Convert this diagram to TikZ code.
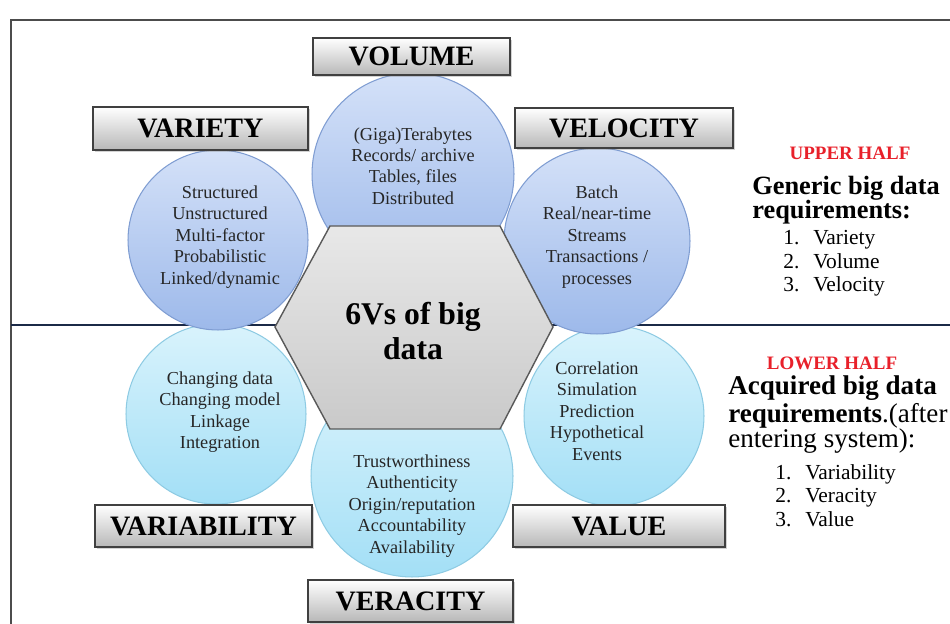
\documentclass[tikz,border=0pt]{standalone}
\usepackage{fontspec}
\setmainfont{Liberation Serif}
\usetikzlibrary{shadows}

\definecolor{upbluetop}{HTML}{D4E1F8}
\definecolor{upbluebot}{HTML}{9DB9EA}
\definecolor{upblueline}{HTML}{7F9DD2}
\definecolor{lowcyantop}{HTML}{D9F3FC}
\definecolor{lowcyanbot}{HTML}{A3DFF6}
\definecolor{lowcyanline}{HTML}{8ECBE3}
\definecolor{divline}{HTML}{1B2A47}
\definecolor{halfred}{HTML}{E8202A}

\tikzset{
	upcirc/.style={circle, draw=upblueline, line width=0.6pt, top color=upbluetop, bottom color=upbluebot, inner sep=0pt},
	lowcirc/.style={circle, draw=lowcyanline, line width=0.6pt, top color=lowcyantop, bottom color=lowcyanbot, inner sep=0pt},
	circtxt/.style={align=center, text=black!85, font=\fontsize{10.4}{12.2}\selectfont},
	vbox/.style={draw=black!75, line width=0.9pt, top color=white, bottom color=black!28, inner sep=0pt,
		drop shadow={opacity=0.35, shadow xshift=1.2pt, shadow yshift=-1.2pt},
		font=\fontsize{16}{16}\selectfont\bfseries},
	hexcore/.style={draw=black!65, line width=0.8pt, top color=black!9, bottom color=black!21},
	halftitle/.style={anchor=base, text=halfred, font=\fontsize{10.8}{12}\selectfont\bfseries},
	reqline/.style={anchor=base west, inner sep=0pt},
	listline/.style={anchor=base west, inner sep=0pt, font=\fontsize{12.2}{13}\selectfont}
}

\begin{document}
\begin{tikzpicture}[x=0.02cm, y=-0.02cm]
			%%%%% START %%%%%
			\useasboundingbox (0, 0) rectangle (950, 624);
			\clip (0, 0) rectangle (950, 624);
			
			\draw[line width=0.9pt, color=black!70] (11, 20) rectangle (1000, 700);
			\draw[line width=1.6pt, color=divline] (11, 325) -- (950, 325);
			
			% lower half
			\node[lowcirc, minimum size=3.6cm] (variabilitycirc) at (216, 414) {};
			\node[lowcirc, minimum size=3.6cm] (valuecirc) at (614, 416) {};
			\node[lowcirc, minimum size=4.04cm] (veracitycirc) at (412, 476) {};
			
			% upper half
			\node[upcirc, minimum size=3.6cm] (varietycirc) at (218, 240) {};
			\node[upcirc, minimum size=4.04cm] (volumecirc) at (413, 174) {};
			\node[upcirc, minimum size=3.72cm] (velocitycirc) at (597, 241) {};
			
			\draw[hexcore] (330, 226) -- (500, 226) -- (553, 327) -- (500, 429) -- (330, 429) -- (275, 327) -- cycle;
			\node[align=center, font=\fontsize{18}{19.5}\selectfont\bfseries] (core) at (413, 331) {6Vs of big\\data};
			
			\node[circtxt] (volumetxt) at (413, 166) {(Giga)Terabytes\\Records/ archive\\Tables, files\\Distributed};
			\node[circtxt] (varietytxt) at (220, 237) {Structured\\Unstructured\\Multi-factor\\Probabilistic\\Linked/dynamic};
			\node[circtxt] (velocitytxt) at (597, 237) {Batch\\Real/near-time\\Streams\\Transactions /\\processes};
			\node[circtxt] (variabilitytxt) at (220, 412) {Changing data\\Changing model\\Linkage\\Integration};
			\node[circtxt] (veracitytxt) at (412, 506) {Trustworthiness\\Authenticity\\Origin/reputation\\Accountability\\Availability};
			\node[circtxt] (valuetxt) at (597, 411) {Correlation\\Simulation\\Prediction\\Hypothetical\\Events};
			
			\node[vbox, minimum width=3.94cm, minimum height=0.74cm] (volume) at (411.5, 56.5) {VOLUME};
			\node[vbox, minimum width=4.3cm, minimum height=0.86cm] (variety) at (200.5, 128.5) {VARIETY};
			\node[vbox, minimum width=4.36cm, minimum height=0.8cm] (velocity) at (624, 128) {VELOCITY};
			\node[vbox, minimum width=4.34cm, minimum height=0.84cm] (variability) at (203.5, 526) {VARIABILITY};
			\node[vbox, minimum width=4.24cm, minimum height=0.84cm] (value) at (619, 526) {VALUE};
			\node[vbox, minimum width=4.1cm, minimum height=0.84cm] (veracity) at (410.5, 601) {VERACITY};
			
			% right hand notes
			\node[halftitle] (upper) at (850, 160) {UPPER HALF};
			\node[reqline, font=\fontsize{15}{16}\selectfont\bfseries] (generic) at (752, 195) {Generic big data};
			\node[reqline, font=\fontsize{15}{16}\selectfont\bfseries] (genericreq) at (752, 219) {requirements:};
			\node[listline] (up1) at (783, 245) {\makebox[0.6cm][l]{1.}Variety};
			\node[listline] (up2) at (783, 269) {\makebox[0.6cm][l]{2.}Volume};
			\node[listline] (up3) at (783, 292) {\makebox[0.6cm][l]{3.}Velocity};
			
			\node[halftitle] (lower) at (832, 370) {LOWER HALF};
			\node[reqline, font=\fontsize{15.4}{16}\selectfont\bfseries] (acquired) at (728, 395) {Acquired big data};
			\node[reqline, font=\fontsize{15.4}{16}\selectfont] (acquiredreq) at (728, 423) {\bfseries requirements\mdseries.(after};
			\node[reqline, font=\fontsize{15.4}{16}\selectfont] (entering) at (728, 448) {entering system):};
			\node[listline] (low1) at (775, 480) {\makebox[0.6cm][l]{1.}Variability};
			\node[listline] (low2) at (775, 503) {\makebox[0.6cm][l]{2.}Veracity};
			\node[listline] (low3) at (775, 527) {\makebox[0.6cm][l]{3.}Value};
			
			%%%%% END %%%%%
\end{tikzpicture}
\end{document}
